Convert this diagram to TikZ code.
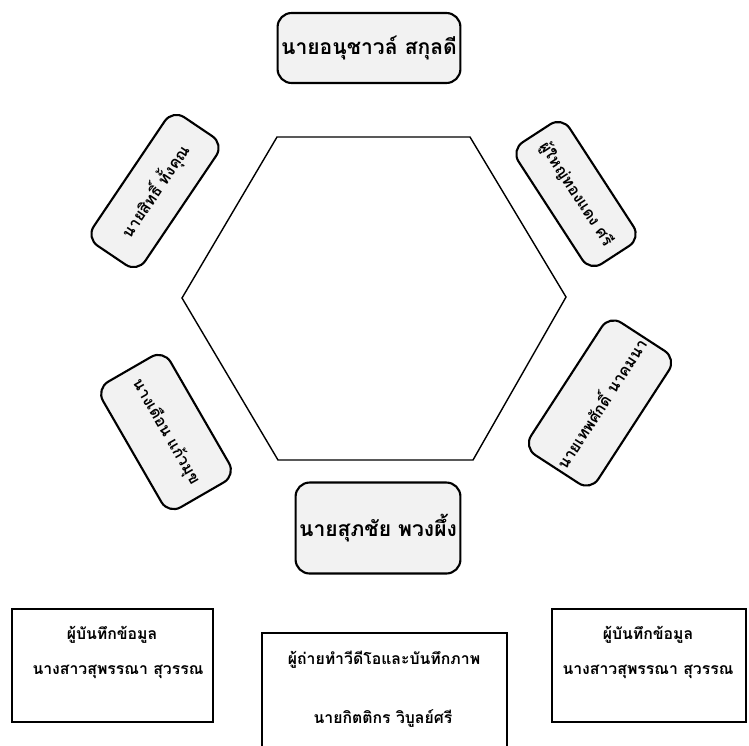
\documentclass[tikz,border=0pt]{standalone}
\usepackage{fontspec}
\usepackage{tikz}
\usetikzlibrary{shapes.geometric, positioning}
\newfontfamily\thaifont[Script=Thai]{Loma}

\begin{document}
\begin{tikzpicture}[x=0.02cm, y=-0.02cm,
    namebox/.style={rectangle, draw=black, very thick, rounded corners=8pt, fill=black!5, inner sep=2pt, align=center, font=\thaifont\bfseries\small},
    rolebox/.style={rectangle, draw=black, thick, inner sep=0pt, align=center},
    roletext/.style={font=\thaifont\bfseries\small}
]
    \useasboundingbox (0,0) rectangle (749,745);

    % Hexagon
    \coordinate (h1) at (277,137);
    \coordinate (h2) at (470,137);
    \coordinate (h3) at (566,297);
    \coordinate (h4) at (473,460);
    \coordinate (h5) at (278,460);
    \coordinate (h6) at (182,298);
    \draw[thick] (h1) -- (h2) -- (h3) -- (h4) -- (h5) -- (h6) -- cycle;

    % Name boxes round the hexagon
    \node[namebox, minimum width=3.64cm, minimum height=1.4cm, font=\thaifont\bfseries\large] (top) at (369,48) {นายอนุชาวล์ สกุลดี};
    \node[namebox, minimum width=3.1cm, minimum height=1.24cm, rotate=56] (upleft) at (155,191) {นายสิทธิ์ ทั้งคุณ};
    \node[namebox, minimum width=2.9cm, minimum height=1.22cm, rotate=-57] (upright) at (576,194) {ผู้ใหญ่ทองแดง ศรี};
    \node[namebox, minimum width=2.9cm, minimum height=1.56cm, rotate=-60] (lowleft) at (166,432) {นางเดือน แก้วมุข};
    \node[namebox, minimum width=3.0cm, minimum height=1.6cm, rotate=57] (lowright) at (600,403) {นายเทพศักดิ์ นาคมนา};
    \node[namebox, minimum width=3.0cm, minimum height=1.82cm, font=\thaifont\bfseries\large] (bottom) at (378,528) {นายสุภชัย พวงผึ้ง};

    % Staff boxes
    \node[rolebox, minimum width=4.02cm, minimum height=2.26cm] (recleft) at (112.5,665.5) {};
    \node[rolebox, minimum width=4.9cm, minimum height=2.6cm] (video) at (384.5,698) {};
    \node[rolebox, minimum width=3.88cm, minimum height=2.26cm] (recright) at (649,665.5) {};

    \node[roletext] (recleftA) at (112,635) {ผู้บันทึกข้อมูล};
    \node[roletext] (recleftB) at (118,672) {นางสาวสุพรรณา สุวรรณ};
    \node[roletext] (videoA) at (384,660) {ผู้ถ่ายทำวีดีโอและบันทึกภาพ};
    \node[roletext] (videoB) at (383,718) {นายกิตติกร วิบูลย์ศรี};
    \node[roletext] (recrightA) at (648,635) {ผู้บันทึกข้อมูล};
    \node[roletext] (recrightB) at (648,672) {นางสาวสุพรรณา สุวรรณ};
\end{tikzpicture}
\end{document}
